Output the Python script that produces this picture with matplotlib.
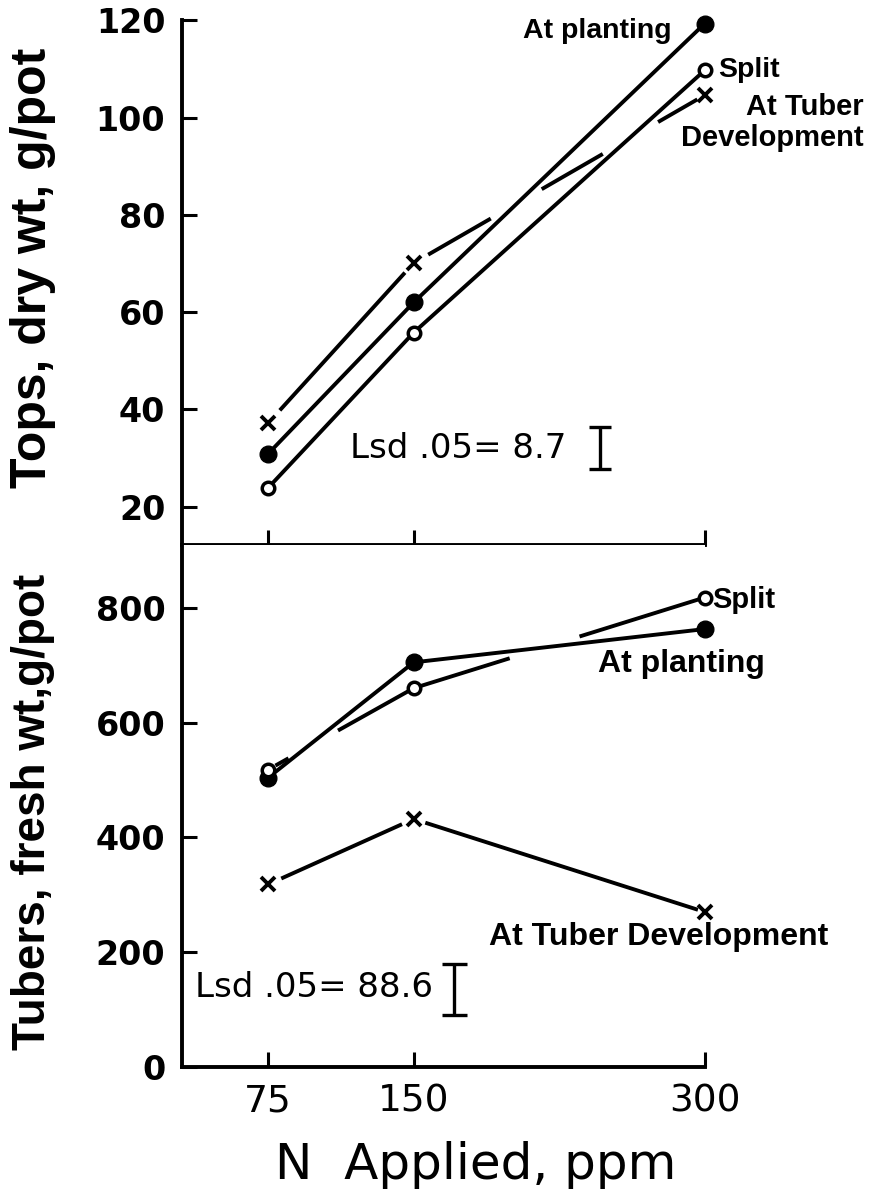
import numpy as np
import matplotlib
matplotlib.use("Agg")
import matplotlib.pyplot as plt

# N applied (ppm)
n_ppm = [75, 150, 300]

# Tops, dry wt, g/pot
tops_planting = [30.9, 62.0, 119.3]
tops_split = [23.9, 55.8, 109.7]
tops_tuber = [37.2, 70.1, 104.6]
tops_lsd = 8.7

# Tubers, fresh wt, g/pot
tub_planting = [504, 705, 763]
tub_split = [518, 660, 818]
tub_tuber = [318, 432, 270]
tub_lsd = 88.6

LBL = ['Liberation Sans', 'DejaVu Sans']
LW = 2.8


def broken(ax, x, y, pieces, **kw):
    # draw each segment only over the visible fractions (hand-drawn gaps)
    for i, segs in enumerate(pieces):
        for a, b in segs:
            xs = [x[i] + a * (x[i + 1] - x[i]), x[i] + b * (x[i + 1] - x[i])]
            ys = [y[i] + a * (y[i + 1] - y[i]), y[i] + b * (y[i + 1] - y[i])]
            ax.plot(xs, ys, color='black', lw=LW, solid_capstyle='butt', clip_on=False, **kw)


def style(ax):
    for s in ['top', 'right']:
        ax.spines[s].set_visible(False)
    for s in ['left', 'bottom']:
        ax.spines[s].set_linewidth(2.8)
    ax.tick_params(axis='both', direction='in', length=11, width=2.2, pad=12)
    ax.set_xlim(30.6, 300)
    ax.set_xticks(n_ppm)


fig = plt.figure(figsize=(8.71, 11.92), dpi=100)
ax1 = fig.add_axes([0.209, 0.543, 0.600, 0.440])
ax2 = fig.add_axes([0.209, 0.105, 0.600, 0.438])

# ---- top panel ----
style(ax1)
ax1.set_ylim(12.2, 120)
ax1.set_yticks([20, 40, 60, 80, 100, 120])
ax1.set_xticklabels([])
ax1.plot(n_ppm, tops_planting, color='black', lw=LW, marker='o', ms=12, clip_on=False)
ax1.plot(n_ppm, tops_split, color='black', lw=LW, marker='o', ms=9, mfc='white', mew=2.5, clip_on=False)
ax1.plot(n_ppm, tops_tuber, ls='none', marker='x', ms=9.5, mew=2.8, color='black', clip_on=False)
broken(ax1, n_ppm, tops_tuber, [[(0.08, 0.94)], [(0.05, 0.265), (0.44, 0.65), (0.84, 0.975)]])
ax1.errorbar([246], [32.1], yerr=[tops_lsd / 2], color='black', lw=2.4, capsize=8, capthick=2.4)
ax1.text(117, 32, 'Lsd .05= 8.7', fontsize=24.5, va='center', ha='left', family='DejaVu Sans')
ax1.text(283, 117.8, 'At planting', fontsize=20.5, fontweight='bold', ha='right', va='center', family=LBL)
ax1.text(307, 109.7, 'Split', fontsize=20.5, fontweight='bold', ha='left', va='center', family=LBL)
ax1.text(382, 99, 'At Tuber\nDevelopment', fontsize=21, fontweight='bold', ha='right', va='center',
         multialignment='right', family=LBL, linespacing=1.15)

# ---- bottom panel ----
style(ax2)
ax2.set_ylim(0, 910)
ax2.set_yticks([0, 200, 400, 600, 800])
ax2.plot(n_ppm, tub_planting, color='black', lw=LW, marker='o', ms=12, clip_on=False)
ax2.plot(n_ppm, tub_split, ls='none', marker='o', ms=9, mfc='white', mew=2.5, color='black', clip_on=False)
broken(ax2, n_ppm, tub_split, [[(0.05, 0.14), (0.48, 0.97)], [(0.02, 0.33), (0.57, 0.985)]])
ax2.plot(n_ppm, tub_tuber, ls='none', marker='x', ms=9.5, mew=2.8, color='black', clip_on=False)
broken(ax2, n_ppm, tub_tuber, [[(0.09, 0.92)], [(0.04, 0.977)]])
ax2.errorbar([171], [135], yerr=[tub_lsd / 2], color='black', lw=2.4, capsize=9, capthick=2.4)
ax2.text(37.5, 138, 'Lsd .05= 88.6', fontsize=24.5, va='center', ha='left', family='DejaVu Sans')
ax2.text(304, 813, 'Split', fontsize=21, fontweight='bold', ha='left', va='center', family=LBL)
ax2.text(245, 702, 'At planting', fontsize=23, fontweight='bold', ha='left', va='center', family=LBL)
ax2.text(189, 227, 'At Tuber Development', fontsize=23, fontweight='bold', ha='left', va='center', family=LBL)

for ax in (ax1, ax2):
    for t in ax.get_yticklabels():
        t.set_fontsize(24)
        t.set_fontweight('bold')
        t.set_family('DejaVu Sans')
for t in ax2.get_xticklabels():
    t.set_fontsize(27)
    t.set_family('DejaVu Sans')

fig.text(33 / 871, 1 - 268 / 1192, 'Tops, dry wt, g/pot', rotation=90, ha='center', va='center',
         fontsize=36, fontweight='bold', family=LBL)
fig.text(33 / 871, 1 - 812 / 1192, 'Tubers, fresh wt,g/pot', rotation=90, ha='center', va='center',
         fontsize=33, fontweight='bold', family=LBL)
fig.text(476 / 871, 1 - 1165 / 1192, 'N  Applied, ppm', ha='center', va='center', fontsize=36,
         family='DejaVu Sans')

fig.savefig('out.png', dpi=100)
